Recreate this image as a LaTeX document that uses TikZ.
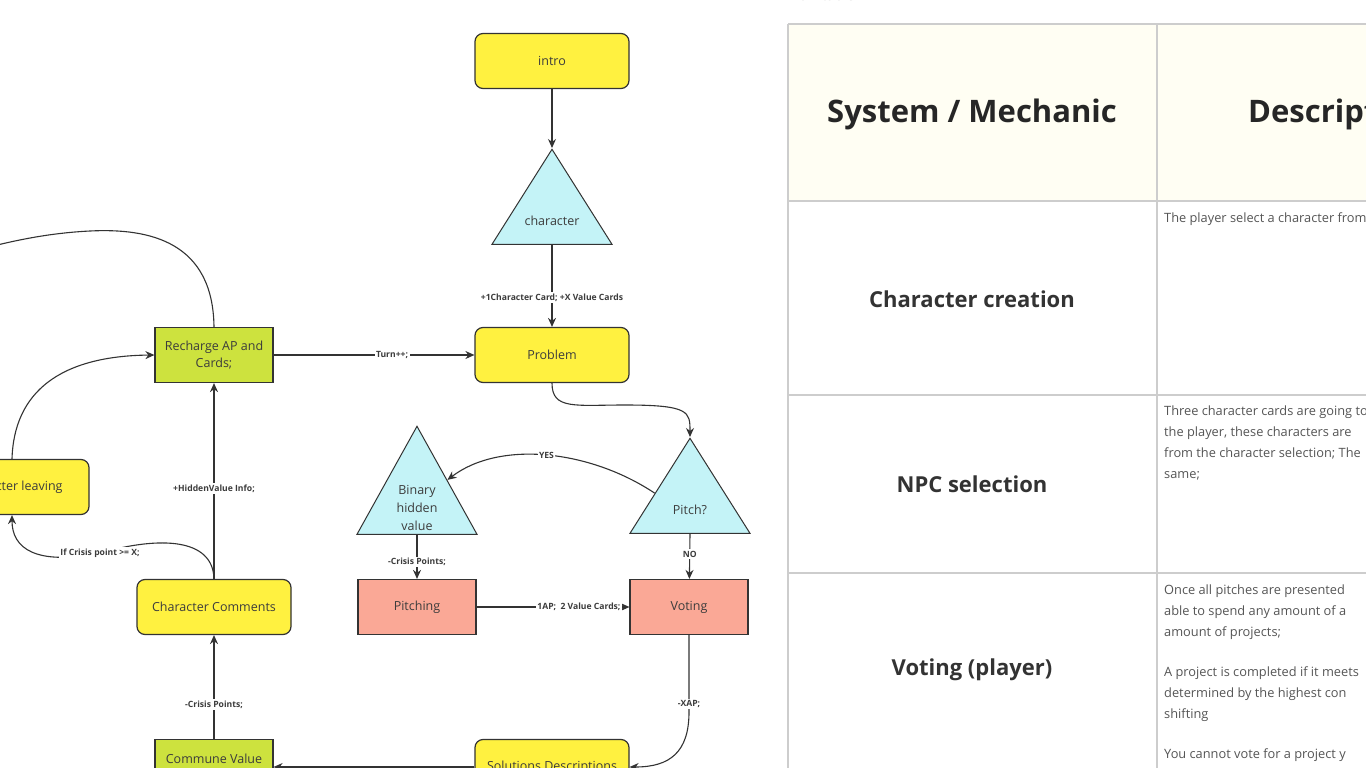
\documentclass[tikz,border=0pt]{standalone}
\usepackage{fontspec}
\setmainfont{Open Sans}
\usetikzlibrary{positioning,calc,shapes.geometric,arrows.meta}
\definecolor{myyellow}{RGB}{255,241,64}
\definecolor{mycyan}{RGB}{196,243,247}
\definecolor{mylime}{RGB}{205,226,62}
\definecolor{mysalmon}{RGB}{250,168,150}
\definecolor{myline}{RGB}{51,51,51}
\definecolor{mytext}{RGB}{60,60,60}
\definecolor{mycream}{RGB}{255,254,243}
\definecolor{mygrid}{RGB}{205,205,205}
\definecolor{mygrey}{RGB}{85,85,85}

\begin{document}
\begin{tikzpicture}[x=1pt,y=-1pt,
            yellowb/.style={
                draw=myline,
                fill=myyellow,
                line width=1.2pt,
                rounded corners=8pt,
                minimum width=154pt,
                minimum height=55pt,
                font={\fontsize{12.5}{17}\selectfont},
                text=mytext,
                align=center},
            limeb/.style={yellowb,fill=mylime,rounded corners=0pt,minimum width=118pt},
            salmonb/.style={limeb,fill=mysalmon},
            cyant/.style={
                draw=myline,
                fill=mycyan,
                line width=1pt,
                isosceles triangle,
                shape border rotate=90,
                isosceles triangle stretches,
                minimum width=120pt,
                minimum height=95pt,
                inner sep=0pt,
                anchor=apex},
            tritext/.style={font={\fontsize{12.5}{18}\selectfont},text=mytext,align=center,anchor=center},
            flow/.style={draw=myline,line width=1.1pt,-{Stealth[length=9pt,width=8pt]}},
            edgelabel/.style={fill=white,inner sep=1.5pt,font={\fontsize{8.6}{10}\selectfont\bfseries},text=mytext},
            grid/.style={draw=mygrid,line width=2pt},
            headtext/.style={font={\fontsize{31}{36}\selectfont\bfseries},text=black!85},
            rowtext/.style={font={\fontsize{22}{27}\selectfont\bfseries},text=black!80},
            desctext/.style={font={\fontsize{12.8}{21}\selectfont},text=mygrey,align=left,anchor=north west,inner sep=0pt},
        ]
        \useasboundingbox[fill=white] (0,0) rectangle (1366,768);

        % flow chart
        \node[yellowb] (Intro) at (552,61) {intro};
        \node[cyant,label={[tritext,yshift=24pt]south:character}] (Char) at (552,148) {};
        \node[yellowb] (Prob) at (552,355) {Problem};
        \node[cyant,label={[tritext,yshift=24pt]south:Pitch?}] (Pitch) at (690,437) {};
        \node[cyant,minimum height=108pt,label={[tritext,yshift=27pt]south:Binary\\hidden\\value}] (Bin) at (417,425) {};
        \node[salmonb] (Pitching) at (417,607) {Pitching};
        \node[salmonb] (Vote) at (689,607) {Voting};
        \node[yellowb] (Sol) at (552,767) {Solutions Descriptions};
        \node[limeb] (Comm) at (214,767) {Commune Value\\\mbox{}};
        \node[yellowb] (Comments) at (214,607) {Character Comments};
        \node[limeb] (Recharge) at (214,355) {Recharge AP and\\Cards;};
        \node[yellowb] (Leave) at (12,487) {Character leaving};
        \coordinate (Off) at (-30,252);

        \draw[flow] (Intro) -- (Char.apex);
        \draw[flow] (Char.south) -- node[edgelabel,pos=0.64] {+1Character Card; +X Value Cards} (Prob);
        \draw[flow] (Recharge) -- node[edgelabel,pos=0.59] {Turn++;} (Prob);
        \draw[flow] (Prob.south) .. controls (552,410) and (575,405) .. (625,405)
            .. controls (690,405) and (690,412) .. (Pitch.apex);
        \draw[flow] ($(Pitch.apex)!0.58!(Pitch.left corner)$) .. controls (590,450) and (500,440)
            .. node[edgelabel] {YES} ($(Bin.apex)!0.5!(Bin.right corner)$);
        \draw[flow] (Pitch.south) -- node[edgelabel,pos=0.45] {NO} (Vote);
        \draw[flow] (Bin.south) -- node[edgelabel,pos=0.62] {-Crisis Points;} (Pitching);
        \draw[flow] (Pitching) -- node[edgelabel,pos=0.67] {1AP;\enspace 2 Value Cards;} (Vote);
        \draw[flow] (Vote.south) -- node[edgelabel,pos=0.9] {-XAP;} (689,712)
            .. controls (689,752) and (670,767) .. (Sol.east);
        \draw[flow] (Sol) -- (Comm);
        \draw[flow] (Comm) -- node[edgelabel,pos=0.33] {-Crisis Points;} (Comments);
        \draw[flow] (Comments) -- node[edgelabel,pos=0.46] {+HiddenValue Info;} (Recharge);
        \draw[flow] (Comments.north) .. controls (213,538) and (160,536) .. (100,553)
            node[edgelabel] {If Crisis point >= X;}
            .. controls (35,566) and (12,548) .. (Leave.south);
        \draw[flow] (Leave.north) .. controls (14,392) and (60,356) .. (Recharge.west);
        \draw[flow] (Recharge.north) .. controls (213,242) and (150,228) .. (90,231)
            .. controls (50,233) and (15,240) .. (Off);

        % table
        \node[anchor=base west,inner sep=0pt,font={\fontsize{14}{16}\selectfont},text=black!45] (Title) at (788,1) {Flow table};
        \fill[mycream] (788,24) rectangle (1380,201);
        \draw[grid] (788,24) -- (1380,24);
        \draw[grid] (788,201) -- (1380,201);
        \draw[grid] (788,395) -- (1380,395);
        \draw[grid] (788,573) -- (1380,573);
        \draw[grid] (788,24) -- (788,780);
        \draw[grid] (1157,24) -- (1157,780);
        \node[headtext] (HeadSys) at (972,114) {System / Mechanic};
        \node[headtext,anchor=west,inner sep=0pt] (HeadDesc) at (1248,114) {Description};
        \node[rowtext] (RowChar) at (972,299) {Character creation};
        \node[rowtext] (RowNpc) at (972,484) {NPC selection};
        \node[rowtext] (RowVote) at (972,670) {Voting (player)};
        \node[desctext] (DescChar) at (1164,213) {The player select a character from the};
        \node[desctext] (DescNpc) at (1164,406) {Three character cards are going to\\the player, these characters are\\from the character selection; The\\same;};
        \node[desctext] (DescVote) at (1164,585) {Once all pitches are presented\\able to spend any amount of a\\amount of projects;\\[19pt]A project is completed if it meets\\determined by the highest con\\shifting\\[19pt]You cannot vote for a project y};
\end{tikzpicture}
\end{document}
